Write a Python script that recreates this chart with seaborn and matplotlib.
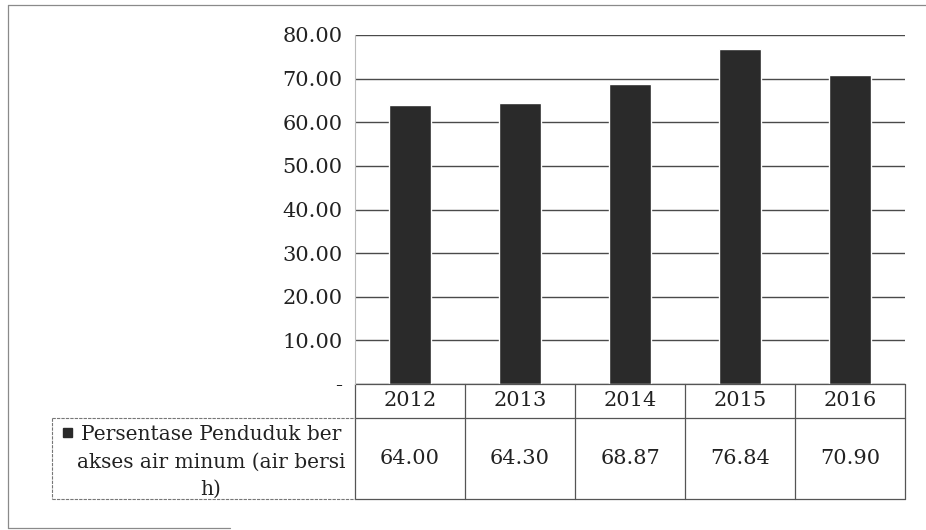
import seaborn as sns
from matplotlib import pyplot as plt
from matplotlib.lines import Line2D
import matplotlib.transforms as mtransforms

years = ["2012", "2013", "2014", "2015", "2016"]
values = [64.00, 64.30, 68.87, 76.84, 70.90]
label_lines = ["Persentase Penduduk ber", "akses air minum (air bersi", "h)"]
yticks = [0, 10, 20, 30, 40, 50, 60, 70, 80]

BAR = "#2a2a2a"
GRID = "#4a4a4a"
TEXT = "#222222"
FS = 15

sns.set_style("white")
plt.rcParams["font.family"] = ["DejaVu Serif"]

W, H = 926, 530
fig = plt.figure(figsize=(W / 100, H / 100), dpi=100)
ax = fig.add_axes([355 / W, 1 - 384 / H, (905 - 355) / W, (384 - 35) / H])

sns.barplot(x=years, y=values, color=BAR, width=0.38, saturation=1, ax=ax)

ax.set_ylim(0, 80)
ax.set_xlim(-0.5, len(years) - 0.5)
ax.set_yticks(yticks)
ax.set_yticklabels(["-" if v == 0 else f"{v:.2f}" for v in yticks],
                   fontsize=FS, color=TEXT)
ax.tick_params(axis="y", length=0, pad=9)
ax.set_xticks([])
ax.set_xlabel("")
ax.set_ylabel("")
ax.set_axisbelow(True)
ax.yaxis.grid(True, color=GRID, lw=1)
for side in ["top", "right", "bottom"]:
    ax.spines[side].set_visible(False)
ax.spines["left"].set_color("#bbbbbb")
ax.spines["left"].set_linewidth(0.8)

# data table below the plot (x in data, y in axes fraction)
trans = mtransforms.blended_transform_factory(ax.transData, ax.transAxes)
ax_h = 384 - 35
y_top = 0.0
y_mid = -(418 - 384) / ax_h
y_bot = -(499 - 384) / ax_h
x_leg = -0.5 - (355 - 52) / ((905 - 355) / len(years))
x_end = len(years) - 0.5

line_kw = dict(transform=trans, color="#555555", lw=0.9, clip_on=False)
ax.plot([-0.5, x_end], [y_top, y_top], **line_kw)
ax.plot([-0.5, x_end], [y_mid, y_mid], **line_kw)
ax.plot([-0.5, x_end], [y_bot, y_bot], **line_kw)
for i in range(len(years) + 1):
    ax.plot([i - 0.5, i - 0.5], [y_top, y_bot], **line_kw)

# legend cell border (dashed, lighter)
dash_kw = dict(transform=trans, color="#777777", lw=0.8, ls=(0, (3, 1)),
               clip_on=False)
ax.plot([x_leg, -0.5], [y_mid, y_mid], **dash_kw)
ax.plot([x_leg, -0.5], [y_bot, y_bot], **dash_kw)
ax.plot([x_leg, x_leg], [y_mid, y_bot], **dash_kw)

for i, (yr, v) in enumerate(zip(years, values)):
    ax.text(i, (y_top + y_mid) / 2, yr, transform=trans, ha="center",
            va="center", fontsize=FS, color=TEXT)
    ax.text(i, (y_mid + y_bot) / 2, f"{v:.2f}", transform=trans,
            ha="center", va="center", fontsize=FS, color=TEXT)

# legend text of the data table, wrapped like the original
for line, base in zip(label_lines, [440, 468, 495]):
    fig.text(211 / W, 1 - base / H, line, ha="center", va="baseline",
             fontsize=14.5, color=TEXT)
fig.add_artist(plt.Rectangle((63 / W, 1 - 437 / H), 9 / W, 9 / H,
                             transform=fig.transFigure, color=BAR))

# outer chart frame (only partly visible in the original scan)
frame_kw = dict(transform=fig.transFigure, color="#8a8a8a", lw=0.9)
fig.add_artist(Line2D([8 / W, 1], [1 - 5 / H, 1 - 5 / H], **frame_kw))
fig.add_artist(Line2D([8 / W, 8 / W], [1 - 5 / H, 1 - 528 / H], **frame_kw))
fig.add_artist(Line2D([8 / W, 230 / W], [1 - 528 / H, 1 - 528 / H],
                      **frame_kw))

plt.savefig("out.png", dpi=100)
